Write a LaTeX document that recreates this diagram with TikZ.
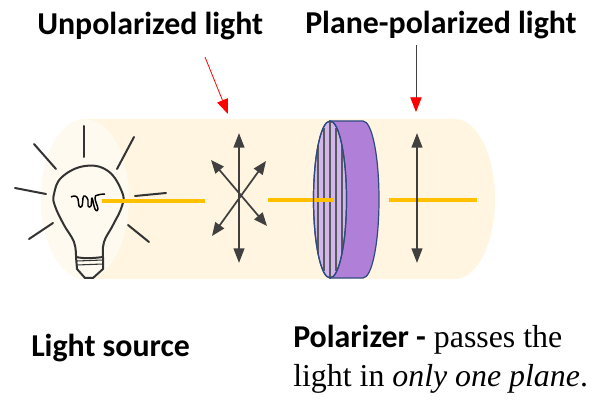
\documentclass[tikz,border=0pt]{standalone}
\usepackage{fontspec}
\setmainfont{Liberation Serif}
\newfontfamily\calib{Carlito}
\usetikzlibrary{arrows.meta}
\definecolor{beam}{HTML}{FFC000}
\definecolor{tube}{HTML}{FFF5E0}
\definecolor{tubelight}{HTML}{FEFAF0}
\definecolor{rim}{HTML}{2F4A80}
\definecolor{disc}{HTML}{B07FD8}
\definecolor{face}{HTML}{D2B6EE}
\definecolor{axisgray}{HTML}{404040}
\tikzset{
  x=0.75pt,y=-0.75pt,
  beamline/.style={draw=beam,line width=3pt},
  ray/.style={draw=black!80,line width=1.5pt,line cap=round},
  bulbline/.style={draw=black!80,line width=1.5pt,line join=round},
  wave/.style={draw=axisgray,line width=1.6pt,{Triangle[length=11pt,width=8pt]}-{Triangle[length=11pt,width=8pt]}},
  wavethin/.style={draw=axisgray,line width=1.3pt,{Triangle[length=10pt,width=8pt]}-{Triangle[length=10pt,width=8pt]}},
  pointer/.style={draw=red,line width=0.6pt,-{Triangle[length=11pt,width=8.5pt]}},
  slit/.style={draw=black!65,line width=0.9pt},
  boldlabel/.style={font=\calib\bfseries\fontsize{23.9pt}{28pt}\selectfont,anchor=west,inner sep=0pt},
  boldtext/.style={anchor=base west,inner sep=0pt,font=\fontsize{23.9pt}{28pt}\selectfont},
}
\begin{document}
\begin{tikzpicture}
\useasboundingbox (0,0) rectangle (601,410);
% tube
\fill[tube] (85,119) -- (455,119) .. controls (477,119) and (495,155) .. (495,199) .. controls (495,243) and (477,279) .. (455,279) -- (85,279) .. controls (61,279) and (41,243) .. (41,199) .. controls (41,155) and (61,119) .. (85,119) -- cycle;
\fill[tubelight] (85,199) ellipse[x radius=44,y radius=80];
% bulb rays
\draw[ray] (84,126) -- (84,157);
\draw[ray] (134,137) -- (117,169);
\draw[ray] (34,144) -- (56,169);
\draw[ray] (15,188) -- (46,194);
\draw[ray] (135,196) -- (166,193);
\draw[ray] (53,223) -- (29,239);
\draw[ray] (128,225) -- (149,242);
% bulb
\draw[bulbline,fill=tubelight] plot[smooth,tension=0.7] coordinates {(76,257) (74,242) (64,225) (55,206) (54,194) (62,177) (85,166) (108,171) (122,192) (122,206) (113,225) (104,242) (103,257)};
\draw[bulbline] (76,257) .. controls (85,259) and (95,258) .. (103,257);
\draw[bulbline] (76,257) -- (77,269) -- (85,278) -- (93,278) -- (103,269) -- (103,257);
\draw[bulbline,line width=0.8pt] (77,261) -- (103,260) (77,265) -- (103,264);
\draw[black,line width=1.1pt,line join=round] plot[smooth,tension=0.8] coordinates {(71,197) (75,196) (78,199) (79,206) (82,206) (83,198) (85,196) (88,200) (88,206) (91,206) (92,198) (95,209) (98,209) (95,198) (98,195) (105,194)};
% beams
\coordinate (b1a) at (102,201.5); \coordinate (b1b) at (205,201.5);
\coordinate (b2a) at (268,200); \coordinate (b2b) at (334,200);
\coordinate (b3a) at (389,200); \coordinate (b3b) at (477,200);
\draw[beamline] (b1a) -- (b1b);
% unpolarized
\coordinate (u1) at (239,133); \coordinate (u2) at (239,263);
\coordinate (u3) at (266,161); \coordinate (u4) at (212,236);
\coordinate (u5) at (211,160); \coordinate (u6) at (267,226);
\draw[wave] (u1) -- (u2);
\draw[wavethin] (u3) -- (u4);
\draw[wavethin] (u5) -- (u6);
% polarizer
\draw[rim,fill=disc,line width=0.9pt] (330,121) -- (363,121) .. controls (372,121) and (379,156) .. (379,199.5) .. controls (379,243) and (372,278) .. (363,278) -- (330,278) -- cycle;
\draw[rim,fill=face,line width=0.9pt] (330,199.5) ellipse[x radius=16.5,y radius=78.5];
\draw[slit] (318,145) -- (318,254);
\draw[slit] (324,128) -- (324,271);
\draw[slit] (330,121) -- (330,278);
\draw[slit] (336,128) -- (336,271);
\draw[slit] (342,145) -- (342,254);
\draw[beamline] (b2a) -- (b2b);
\draw[rim,line width=0.9pt] (330,199.5) ellipse[x radius=16.5,y radius=78.5];
% polarized
\draw[beamline] (b3a) -- (b3b);
\coordinate (p1) at (417,133); \coordinate (p2) at (417,263);
\draw[wave] (p1) -- (p2);
% labels
\node[boldlabel] (lu) at (37,26) {Unpolarized light};
\node[boldlabel] (lp) at (305,25) {Plane-polarized light};
\node[boldlabel] (ls) at (31,348) {Light source};
\node[boldtext] (pl) at (293,348) {{\calib\bfseries Polarizer -} passes the};
\node[boldtext] (pm) at (293,386) {light in \textit{only one plane}.};
% pointers
\coordinate (r1) at (205,57); \coordinate (r2) at (228,114);
\coordinate (r3) at (416,45); \coordinate (r4) at (416,112);
\draw[pointer] (r1) -- (r2);
\draw[pointer,draw=black!75,-{Triangle[length=11pt,width=8.5pt,red]}] (r3) -- (r4);
\end{tikzpicture}
\end{document}
